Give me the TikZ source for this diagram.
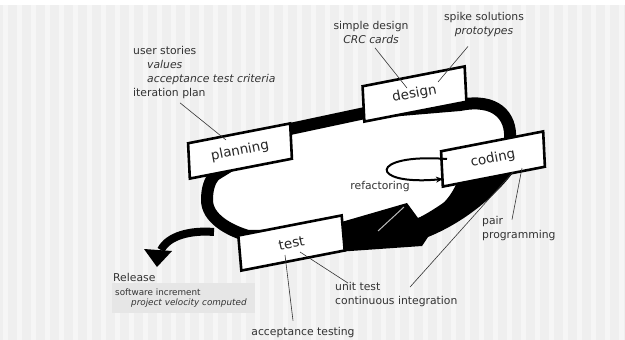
\documentclass[tikz,border=0pt]{standalone}
\usepackage{fontspec}
\setmainfont{DejaVu Sans}
\usetikzlibrary{shapes.geometric,calc,arrows.meta}
\definecolor{bggray}{HTML}{EFEFEF}
\definecolor{ink}{HTML}{333333}
\definecolor{relbox}{HTML}{E6E6E6}
\tikzset{
  phase/.style={trapezium, trapezium left angle=69, trapezium right angle=111,
    trapezium stretches body, draw=black, line width=2.6pt, fill=white,
    minimum height=35pt, minimum width=109pt, inner sep=0pt, rotate=11,
    text=black!85, font=\fontsize{13.5}{16}\selectfont},
  note/.style={inner sep=0pt, text=ink, font=\fontsize{10.8}{14}\selectfont},
  small/.style={inner sep=0pt, text=ink, font=\fontsize{8.8}{10}\selectfont},
  callout/.style={draw=ink, line width=0.6pt},
  band/.style={line width=12pt, line join=round}
}
\begin{document}
\begin{tikzpicture}[x=1pt,y=-1pt]
  \useasboundingbox (0,0) rectangle (625,340);
  \fill[bggray] (0,0) rectangle (625,340);
  \foreach \x in {3,17,...,620} \fill[white!45!bggray] (\x,0) rectangle ++(5,340);
  \fill[white] (0,0) rectangle (625,5);

  % the loop
  \draw[band, fill=white] (248,236) .. controls (228,230) and (207,218) .. (207,200)
    .. controls (207,188) and (210,180) .. (215,175) -- (290,129) -- (365,113) -- (460,105)
    .. controls (495,98) and (512,115) .. (510,140) -- (482,184)
    .. controls (445,207) and (420,233) .. (380,234) -- cycle;
  % arrow from coding back to test
  \fill (338,223) -- (407,203) -- (418,218) .. controls (437,212) and (450,200) .. (458,180)
    -- (515,170) .. controls (497,195) and (465,222) .. (428,237) -- (422,246) -- (336,252) -- cycle;
  \draw[gray!55, line width=1pt] (378,231) -- (404,207);
  % release
  \draw[line width=8pt] (214,232) .. controls (190,230) and (168,236) .. (161,250);
  \fill (144,249) -- (157,267) -- (172,251) -- cycle;

  \node[phase] (planning) at (240,151) {planning};
  \node[phase] (design) at (414.5,94) {design};
  \node[phase] (coding) at (493,159) {coding};
  \node[phase] (test) at (291.5,243) {test};

  \draw[line width=2pt, -{Stealth[length=7pt,width=6pt]}] ($(coding.center)+(-46,0)$)
    .. controls +(-79,-6) and +(-75,7) .. ($(coding.center)+(-50,20)$);

  \node[note, anchor=north west, align=left] (stories) at (133,46)
    {user stories\\\hspace*{14pt}\textit{values}\\\hspace*{14pt}\textit{acceptance test criteria}\\iteration plan};
  \node[note, align=center] (simple) at (371,32) {simple design\\\textit{CRC cards}};
  \node[note, align=center] (spike) at (484,25) {spike solutions\\\textit{prototypes}};
  \node[note] (refact) at (380,187) {refactoring};
  \node[note, anchor=west, align=left] (pair) at (482,229) {pair\\programming};
  \node[note, anchor=west, align=left] (unit) at (335,294.5) {unit test\\continuous integration};
  \node[note] (acctest) at (303,333) {acceptance testing};
  \node[note, anchor=west] (release) at (113,277) {Release};
  \node[small, fill=relbox, anchor=north west, minimum width=143pt, minimum height=30pt,
    text width=137pt, inner xsep=3pt, align=left] (increment) at (112,283)
    {software increment\\\hspace*{16pt}\textit{project velocity computed}};

  \draw[callout] ($(stories.south west)+(47,4)$) -- ($(planning.center)+(-14,-11)$);
  \draw[callout] ($(simple.south)+(4,4.5)$) -- ($(design.center)+(-7.5,-6)$);
  \draw[callout] ($(spike.south)+(-16,9)$) -- ($(design.center)+(23.5,-12)$);
  \draw[callout] ($(pair.north west)+(30,3)$) -- ($(coding.center)+(29,9)$);
  \draw[callout] ($(unit.north west)+(75,5)$) -- ($(coding.center)+(20,13)$);
  \draw[callout] ($(unit.north west)+(13,1)$) -- ($(test.center)+(8.5,9)$);
  \draw[callout] ($(acctest.north)+(-10,-7)$) -- ($(test.center)+(-6.5,12)$);
\end{tikzpicture}
\end{document}
